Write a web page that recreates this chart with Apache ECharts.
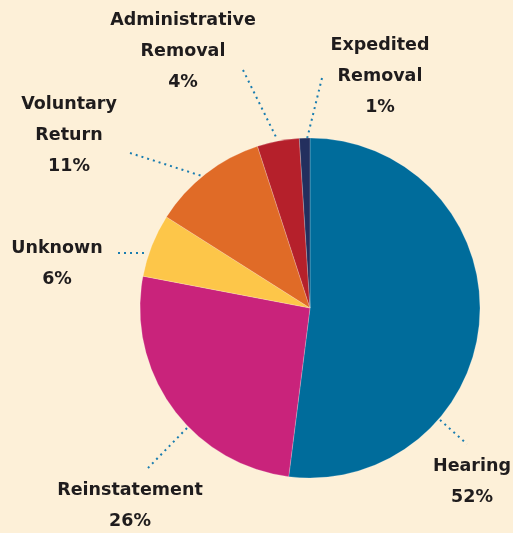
<!DOCTYPE html>
<html>
<head>
<meta charset="utf-8">
<script src="https://cdn.jsdelivr.net/npm/echarts@6/dist/echarts.min.js"></script>
<style>
  html, body { margin: 0; padding: 0; background: #fdf0d8; }
  #chart { width: 513px; height: 533px; }
</style>
</head>
<body>
<div id="chart"></div>
<script>
// data
const categories = [
  "Hearing",
  "Reinstatement",
  "Unknown",
  "Voluntary\nReturn",
  "Administrative\nRemoval",
  "Expedited\nRemoval",
];
const shares = [52, 26, 6, 11, 4, 1];
const colors = ["#006c9b", "#c9237b", "#fdc649", "#e06b27", "#b5202b", "#232f5e"];

// where each label block sits, and its dotted leader line (pixels)
const labelSpots = [
  [472, 482],
  [130, 506],
  [57, 264],
  [69, 135],
  [183, 51],
  [380, 76],
];
const leaderLines = [
  [[440, 420], [467, 444]],
  [[187, 428], [148, 468]],
  [[118, 253], [148, 253]],
  [[130, 153], [202, 176]],
  [[243, 70], [277, 139]],
  [[322, 78], [307, 139]],
];

const chart = echarts.init(document.getElementById("chart"));

chart.setOption({
  backgroundColor: "#fdf0d8",
  animation: false,
  series: [
    {
      type: "pie",
      center: [310, 308],
      radius: [0, 170],
      startAngle: 90,
      clockwise: true,
      avoidLabelOverlap: false,
      itemStyle: {
        borderColor: "rgba(255,255,255,0.35)",
        borderWidth: 0.6,
      },
      label: {
        show: true,
        position: "outside",
        formatter: "{b}\n{c}%",
        fontFamily: "DejaVu Sans",
        fontWeight: "bold",
        fontSize: 17.5,
        lineHeight: 31,
        color: "#1f1c1d",
        align: "center",
      },
      labelLine: {
        show: true,
        lineStyle: {
          color: "#1a7db0",
          width: 2,
          type: [2, 4],
        },
      },
      labelLayout: function (params) {
        const i = params.dataIndex;
        return {
          x: labelSpots[i][0],
          y: labelSpots[i][1],
          align: "center",
          verticalAlign: "middle",
          labelLinePoints: leaderLines[i],
        };
      },
      data: categories.map((name, i) => ({
        name: name,
        value: shares[i],
        itemStyle: { color: colors[i] },
      })),
    },
  ],
});
</script>
</body>
</html>
